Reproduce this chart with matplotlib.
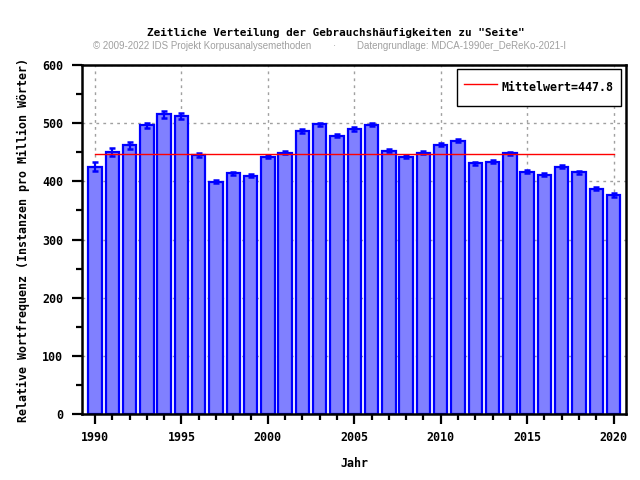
import numpy as np
import matplotlib.pyplot as plt
from matplotlib.ticker import MultipleLocator

years = list(range(1990, 2021))
values = [425.5, 450.7, 462.4, 496.0, 515.7, 513.0, 445.8, 399.4, 413.8, 409.7,
          442.4, 449.2, 486.5, 498.0, 478.5, 490.0, 497.4, 452.7, 442.4, 449.2,
          463.0, 469.8, 431.0, 433.8, 448.2, 416.6, 411.4, 425.2, 415.5, 387.3,
          376.5]
errors = [8, 7, 6, 5, 6, 5, 3.5, 3, 3, 3,
          3, 3, 3, 3, 3, 3, 3, 3, 3, 3,
          3, 3, 3, 3, 3, 3, 3, 3, 3, 3,
          3]
mean_value = 447.8

title = 'Zeitliche Verteilung der Gebrauchshäufigkeiten zu "Seite"'
credit_left = '© 2009-2022 IDS Projekt Korpusanalysemethoden'
credit_right = 'Datengrundlage: MDCA-1990er_DeReKo-2021-I'

mono = 'DejaVu Sans Mono'

fig = plt.figure(figsize=(6.4, 4.8), dpi=100)
ax = fig.add_axes([82 / 640, 1 - 414 / 480, 544 / 640, 349 / 480])

ax.bar(years, values, width=0.78, color='#8080ff', edgecolor='#0000ff',
       linewidth=1.6, zorder=2)
ax.errorbar(years, values, yerr=errors, fmt='none', ecolor='#0000ff',
            elinewidth=1.6, capsize=2.5, capthick=1.8, zorder=3)
ax.plot([years[0], years[-1]], [mean_value, mean_value], color='red',
        linewidth=1, zorder=4, label='Mittelwert=%.1f' % mean_value)

ax.set_xlim(1989.25, 2020.72)
ax.set_ylim(0, 600)
ax.xaxis.set_major_locator(MultipleLocator(5))
ax.xaxis.set_minor_locator(MultipleLocator(1))
ax.yaxis.set_major_locator(MultipleLocator(100))
ax.yaxis.set_minor_locator(MultipleLocator(50))
ax.tick_params(which='major', direction='out', length=7, width=1.6,
               labelsize=8.4)
ax.tick_params(axis='x', which='major', pad=5.5)
ax.tick_params(axis='y', which='major', pad=6.5)
ax.tick_params(which='minor', direction='out', length=4, width=1.6)
for lab in ax.get_xticklabels() + ax.get_yticklabels():
    lab.set_fontfamily(mono)
    lab.set_fontweight('bold')

for sp in ax.spines.values():
    sp.set_linewidth(1.8)

ax.grid(True, which='major', color='#a0a0a0', linestyle=(0, (2, 3)),
        linewidth=1, zorder=0)
ax.set_axisbelow(True)

ax.set_xlabel('Jahr', fontfamily=mono, fontweight='bold', fontsize=8.4,
              labelpad=9)
ax.set_ylabel('Relative Wortfrequenz (Instanzen pro Million Wörter)',
              fontfamily=mono, fontweight='bold', fontsize=8.4, labelpad=9)

fig.text(336 / 640, 1 - 33 / 480, title, ha='center', va='center',
         fontfamily=mono, fontweight='bold', fontsize=7.9)
fig.text(93 / 640, 1 - 46 / 480, credit_left, ha='left', va='center',
         fontfamily='Liberation Sans', fontsize=7, color='#a0a0a0')
fig.text(334 / 640, 1 - 46 / 480, '·', ha='center', va='center',
         fontfamily='Liberation Sans', fontsize=7, color='#a0a0a0')
fig.text(357 / 640, 1 - 46 / 480, credit_right, ha='left', va='center',
         fontfamily='Liberation Sans', fontsize=7, color='#a0a0a0')

leg = ax.legend(loc='upper right', bbox_to_anchor=(0.991, 0.989),
                borderaxespad=0, fancybox=False, edgecolor='black',
                framealpha=1, handlelength=2.8, handletextpad=0.4,
                handleheight=2.5, borderpad=0.65,
                prop={'family': mono, 'weight': 'bold', 'size': 8.4})
leg.get_frame().set_linewidth(1)

fig.savefig('out.png', dpi=100)
